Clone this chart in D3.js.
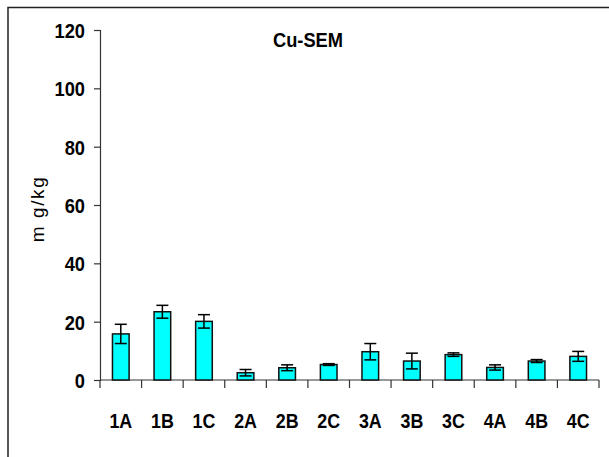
<!DOCTYPE html>
<html>
<head>
<meta charset="utf-8">
<script src="https://cdn.jsdelivr.net/npm/d3@7"></script>
<style>
  html, body { margin: 0; padding: 0; background: #fff; }
  svg { display: block; }
  text { font-family: "Liberation Sans", Arial, sans-serif; fill: #000; }
</style>
</head>
<body>
<script>
// Copper content per sample (mean ± SEM)
const categories = ["1A", "1B", "1C", "2A", "2B", "2C", "3A", "3B", "3C", "4A", "4B", "4C"];
const means = [15.8, 23.4, 20.1, 2.5, 4.2, 5.3, 9.7, 6.5, 8.7, 4.3, 6.5, 8.1];
const sems  = [3.3, 2.2, 2.3, 1.1, 1.0, 0.3, 2.8, 2.7, 0.6, 0.9, 0.5, 1.7];
const yTicks = [0, 20, 40, 60, 80, 100, 120];
const title = "Cu-SEM";
const yLabel = "m g/kg";

const W = 609, H = 457;
const narrow = 0.87;   // condensed look of the bold labels
const svg = d3.select("body").append("svg").attr("width", W).attr("height", H);

// outer frame (left and top edges)
svg.append("path")
  .attr("d", `M8,${H} L8,7.5 L${W},7.5`)
  .attr("fill", "none").attr("stroke", "#222").attr("stroke-width", 1.5);

const x = d3.scaleBand().domain(categories).range([100, 599]).paddingInner(0).paddingOuter(0);
const y = d3.scaleLinear().domain([0, 120]).range([380, 30]);

// y axis
const gy = svg.append("g").attr("transform", "translate(100,0)")
  .call(d3.axisLeft(y).tickValues(yTicks).tickSize(6).tickPadding(9));
gy.select(".domain").attr("stroke", "#333").attr("stroke-width", 1.2);
gy.selectAll(".tick line").attr("stroke", "#333").attr("stroke-width", 1.2);
gy.selectAll(".tick text")
  .attr("font-size", 21).attr("font-weight", "bold")
  .attr("font-family", "Liberation Sans, Arial, sans-serif")
  .attr("fill", "#000").attr("dy", "0.36em")
  .attr("x", -15 / narrow)
  .attr("transform", `scale(${narrow},1)`);

// x axis: ticks on category boundaries
const gx = svg.append("g").attr("transform", "translate(0,380)");
gx.append("line").attr("x1", 100).attr("x2", 599).attr("stroke", "#333").attr("stroke-width", 1.2);
const bounds = categories.map(c => x(c)).concat([x.range()[1]]);
gx.selectAll("line.tk").data(bounds).join("line").attr("class", "tk")
  .attr("x1", d => d).attr("x2", d => d).attr("y1", 0).attr("y2", 8)
  .attr("stroke", "#333").attr("stroke-width", 1.2);
gx.selectAll("text").data(categories).join("text")
  .attr("transform", d => `translate(${x(d) + x.bandwidth() / 2},48) scale(${narrow},1)`)
  .attr("text-anchor", "middle").attr("font-size", 20.5).attr("font-weight", "bold")
  .text(d => d);

// bars
const bw = x.bandwidth() * 0.4;
const data = categories.map((c, i) => ({ c, m: means[i], e: sems[i] }));
svg.append("g").selectAll("rect").data(data).join("rect")
  .attr("x", d => x(d.c) + (x.bandwidth() - bw) / 2)
  .attr("y", d => y(d.m))
  .attr("width", bw)
  .attr("height", d => y(0) - y(d.m))
  .attr("fill", "#00FFFF").attr("stroke", "#111").attr("stroke-width", 1.5);

// error bars
const eb = svg.append("g").attr("stroke", "#000").attr("stroke-width", 1.5).attr("fill", "none");
const cap = 6;
data.forEach(d => {
  const cx = x(d.c) + x.bandwidth() / 2;
  eb.append("line").attr("x1", cx).attr("x2", cx).attr("y1", y(d.m + d.e)).attr("y2", y(d.m - d.e));
  eb.append("line").attr("x1", cx - cap).attr("x2", cx + cap).attr("y1", y(d.m + d.e)).attr("y2", y(d.m + d.e));
  eb.append("line").attr("x1", cx - cap).attr("x2", cx + cap).attr("y1", y(d.m - d.e)).attr("y2", y(d.m - d.e));
});

// title
svg.append("text").attr("transform", `translate(308,47) scale(${narrow},1)`)
  .attr("text-anchor", "middle").attr("font-size", 21).attr("font-weight", "bold")
  .text(title);

// y axis label
svg.append("text").attr("transform", "translate(44,209) rotate(-90)")
  .attr("text-anchor", "middle").attr("font-size", 19).attr("letter-spacing", 1.6)
  .text(yLabel);
</script>
</body>
</html>
